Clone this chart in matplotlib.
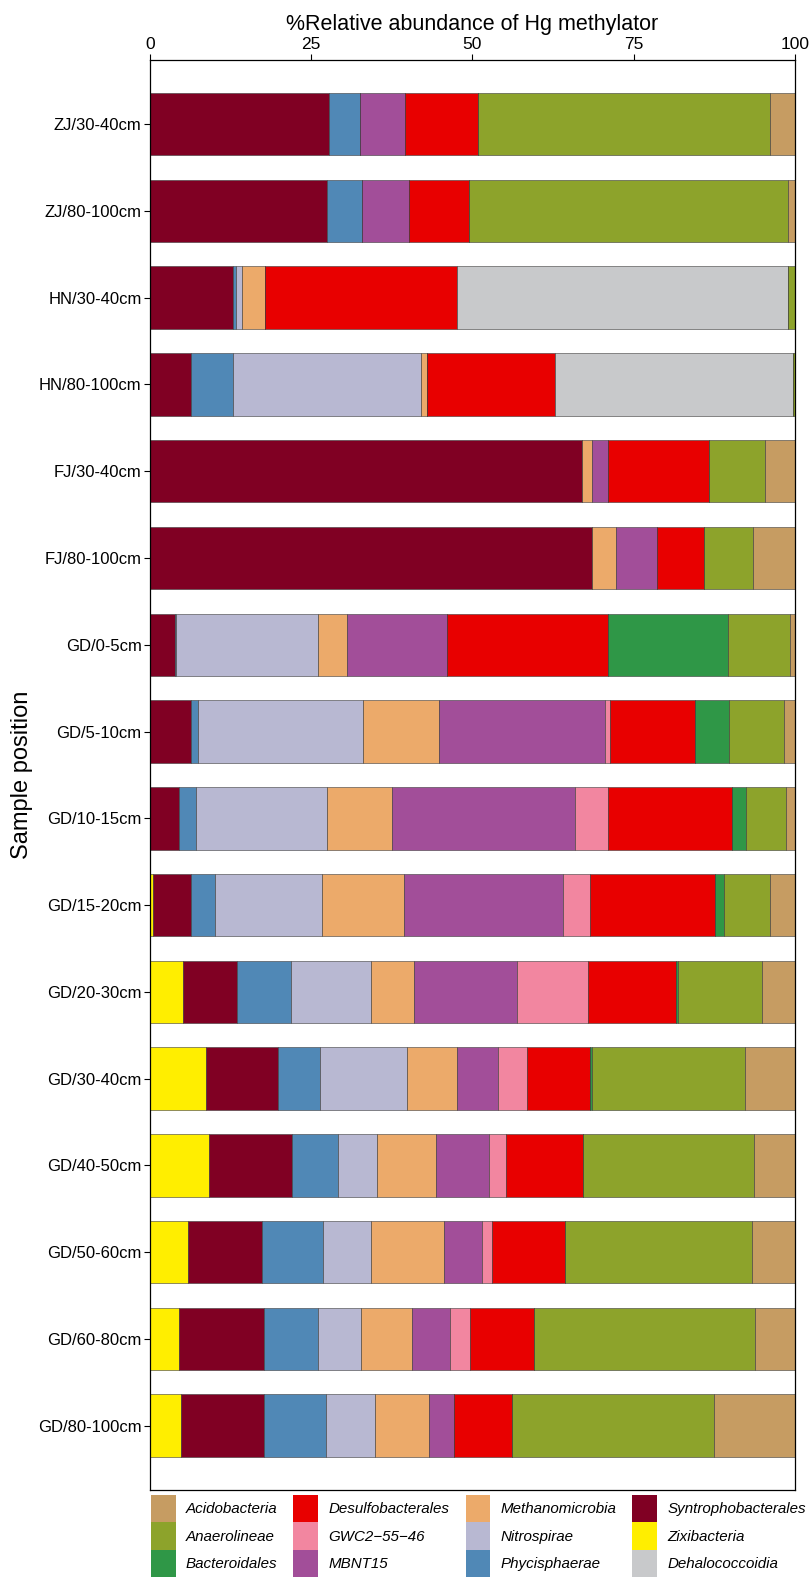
import numpy as np
import matplotlib
matplotlib.use('Agg')
import matplotlib.pyplot as plt
from matplotlib.patches import Patch

plt.rcParams['font.family'] = ['Liberation Sans', 'DejaVu Sans']

samples = ['ZJ/30-40cm', 'ZJ/80-100cm', 'HN/30-40cm', 'HN/80-100cm', 'FJ/30-40cm', 'FJ/80-100cm',
           'GD/0-5cm', 'GD/5-10cm', 'GD/10-15cm', 'GD/15-20cm', 'GD/20-30cm', 'GD/30-40cm',
           'GD/40-50cm', 'GD/50-60cm', 'GD/60-80cm', 'GD/80-100cm']

# stacking order, left to right
zixibacteria        = [0, 0, 0, 0, 0, 0, 0, 0, 0, 0.4, 5.1, 8.7, 9.1, 5.9, 4.5, 4.8]
syntrophobacterales = [27.8, 27.4, 12.8, 6.4, 67.0, 68.6, 3.9, 6.3, 4.5, 5.9, 8.4, 11.2, 12.9, 11.4, 13.2, 12.9]
phycisphaerae       = [4.7, 5.5, 0.6, 6.5, 0, 0, 0.2, 1.2, 2.7, 3.7, 8.4, 6.5, 7.1, 9.6, 8.4, 9.6]
nitrospirae         = [0, 0, 0.9, 29.2, 0, 0, 22.0, 25.5, 20.3, 16.6, 12.4, 13.5, 6.1, 7.4, 6.6, 7.6]
methanomicrobia     = [0, 0, 3.6, 0.8, 1.6, 3.7, 4.5, 11.8, 10.1, 12.8, 6.6, 7.7, 9.1, 11.3, 8.0, 8.3]
mbnt15              = [7.0, 7.3, 0, 0, 2.5, 6.3, 15.5, 25.7, 28.3, 24.7, 16.0, 6.3, 8.2, 5.9, 5.8, 4.0]
gwc2                = [0, 0, 0, 0, 0, 0, 0, 0.8, 5.2, 4.1, 11.0, 4.6, 2.7, 1.6, 3.2, 0]
desulfobacterales   = [11.4, 9.3, 29.7, 19.9, 15.6, 7.3, 24.9, 13.3, 19.2, 19.5, 13.7, 9.8, 11.9, 11.2, 9.9, 9.0]
dehalococcoidia     = [0, 0, 51.4, 36.9, 0, 0, 0, 0, 0, 0, 0, 0, 0, 0, 0, 0]
bacteroidales       = [0, 0, 0, 0, 0, 0, 18.7, 5.2, 2.2, 1.3, 0.3, 0.2, 0, 0, 0, 0]
anaerolineae        = [45.3, 49.5, 1.0, 0.3, 8.7, 7.6, 9.6, 8.6, 6.1, 7.2, 13.0, 23.8, 26.6, 29.1, 34.3, 31.3]
acidobacteria       = [3.8, 1.0, 0, 0, 4.6, 6.5, 0.7, 1.6, 1.4, 3.8, 5.1, 7.7, 6.3, 6.6, 6.1, 12.5]

taxa = [
    ('Zixibacteria', zixibacteria, '#FFEE00'),
    ('Syntrophobacterales', syntrophobacterales, '#800023'),
    ('Phycisphaerae', phycisphaerae, '#5088B6'),
    ('Nitrospirae', nitrospirae, '#B8B8D2'),
    ('Methanomicrobia', methanomicrobia, '#ECAA6A'),
    ('MBNT15', mbnt15, '#A24E99'),
    ('GWC2\u221255\u221246', gwc2, '#F286A0'),
    ('Desulfobacterales', desulfobacterales, '#E80000'),
    ('Dehalococcoidia', dehalococcoidia, '#C8C9CB'),
    ('Bacteroidales', bacteroidales, '#2F9747'),
    ('Anaerolineae', anaerolineae, '#8DA32B'),
    ('Acidobacteria', acidobacteria, '#C69C62'),
]

legend_order = ['Acidobacteria', 'Anaerolineae', 'Bacteroidales', 'Desulfobacterales',
                'GWC2\u221255\u221246', 'MBNT15', 'Methanomicrobia', 'Nitrospirae',
                'Phycisphaerae', 'Syntrophobacterales', 'Zixibacteria', 'Dehalococcoidia']

fig = plt.figure(figsize=(8.11, 15.78), dpi=100)
ax = fig.add_axes([0.185, 0.0558, 0.795, 0.9062])

y = np.arange(len(samples))
left = np.zeros(len(samples))
colors = {}
for name, vals, col in taxa:
    vals = np.array(vals, dtype=float)
    ax.barh(y, vals, left=left, height=0.72, color=col, edgecolor='#3a3a3a', linewidth=0.4)
    left += vals
    colors[name] = col

ax.set_xlim(0, 100)
ax.set_ylim(len(samples) - 1 + 0.74, -0.74)
ax.set_yticks(y)
ax.set_yticklabels(samples, fontsize=12)
ax.set_xticks([0, 25, 50, 75, 100])
ax.xaxis.tick_top()
ax.xaxis.set_label_position('top')
ax.tick_params(axis='x', labelsize=12.5, length=4, width=0.8, pad=2)
ax.tick_params(axis='y', length=4, width=0.8, pad=2)
ax.set_xlabel('%Relative abundance of Hg methylator', fontsize=15.5, labelpad=5)
ax.set_ylabel('Sample position', fontsize=17, labelpad=4)
for s in ax.spines.values():
    s.set_linewidth(0.9)

handles = [Patch(facecolor=colors[n], edgecolor='none') for n in legend_order]
leg = fig.legend(handles, legend_order, ncol=4, loc='upper left', bbox_to_anchor=(0.186, 0.0526),
                 frameon=False, prop={'style': 'italic', 'size': 10.9},
                 handlelength=1.65, handleheight=2.4, handletextpad=0.66,
                 columnspacing=1.06, labelspacing=0.0, borderpad=0, borderaxespad=0)

fig.savefig('out.png', dpi=100)
